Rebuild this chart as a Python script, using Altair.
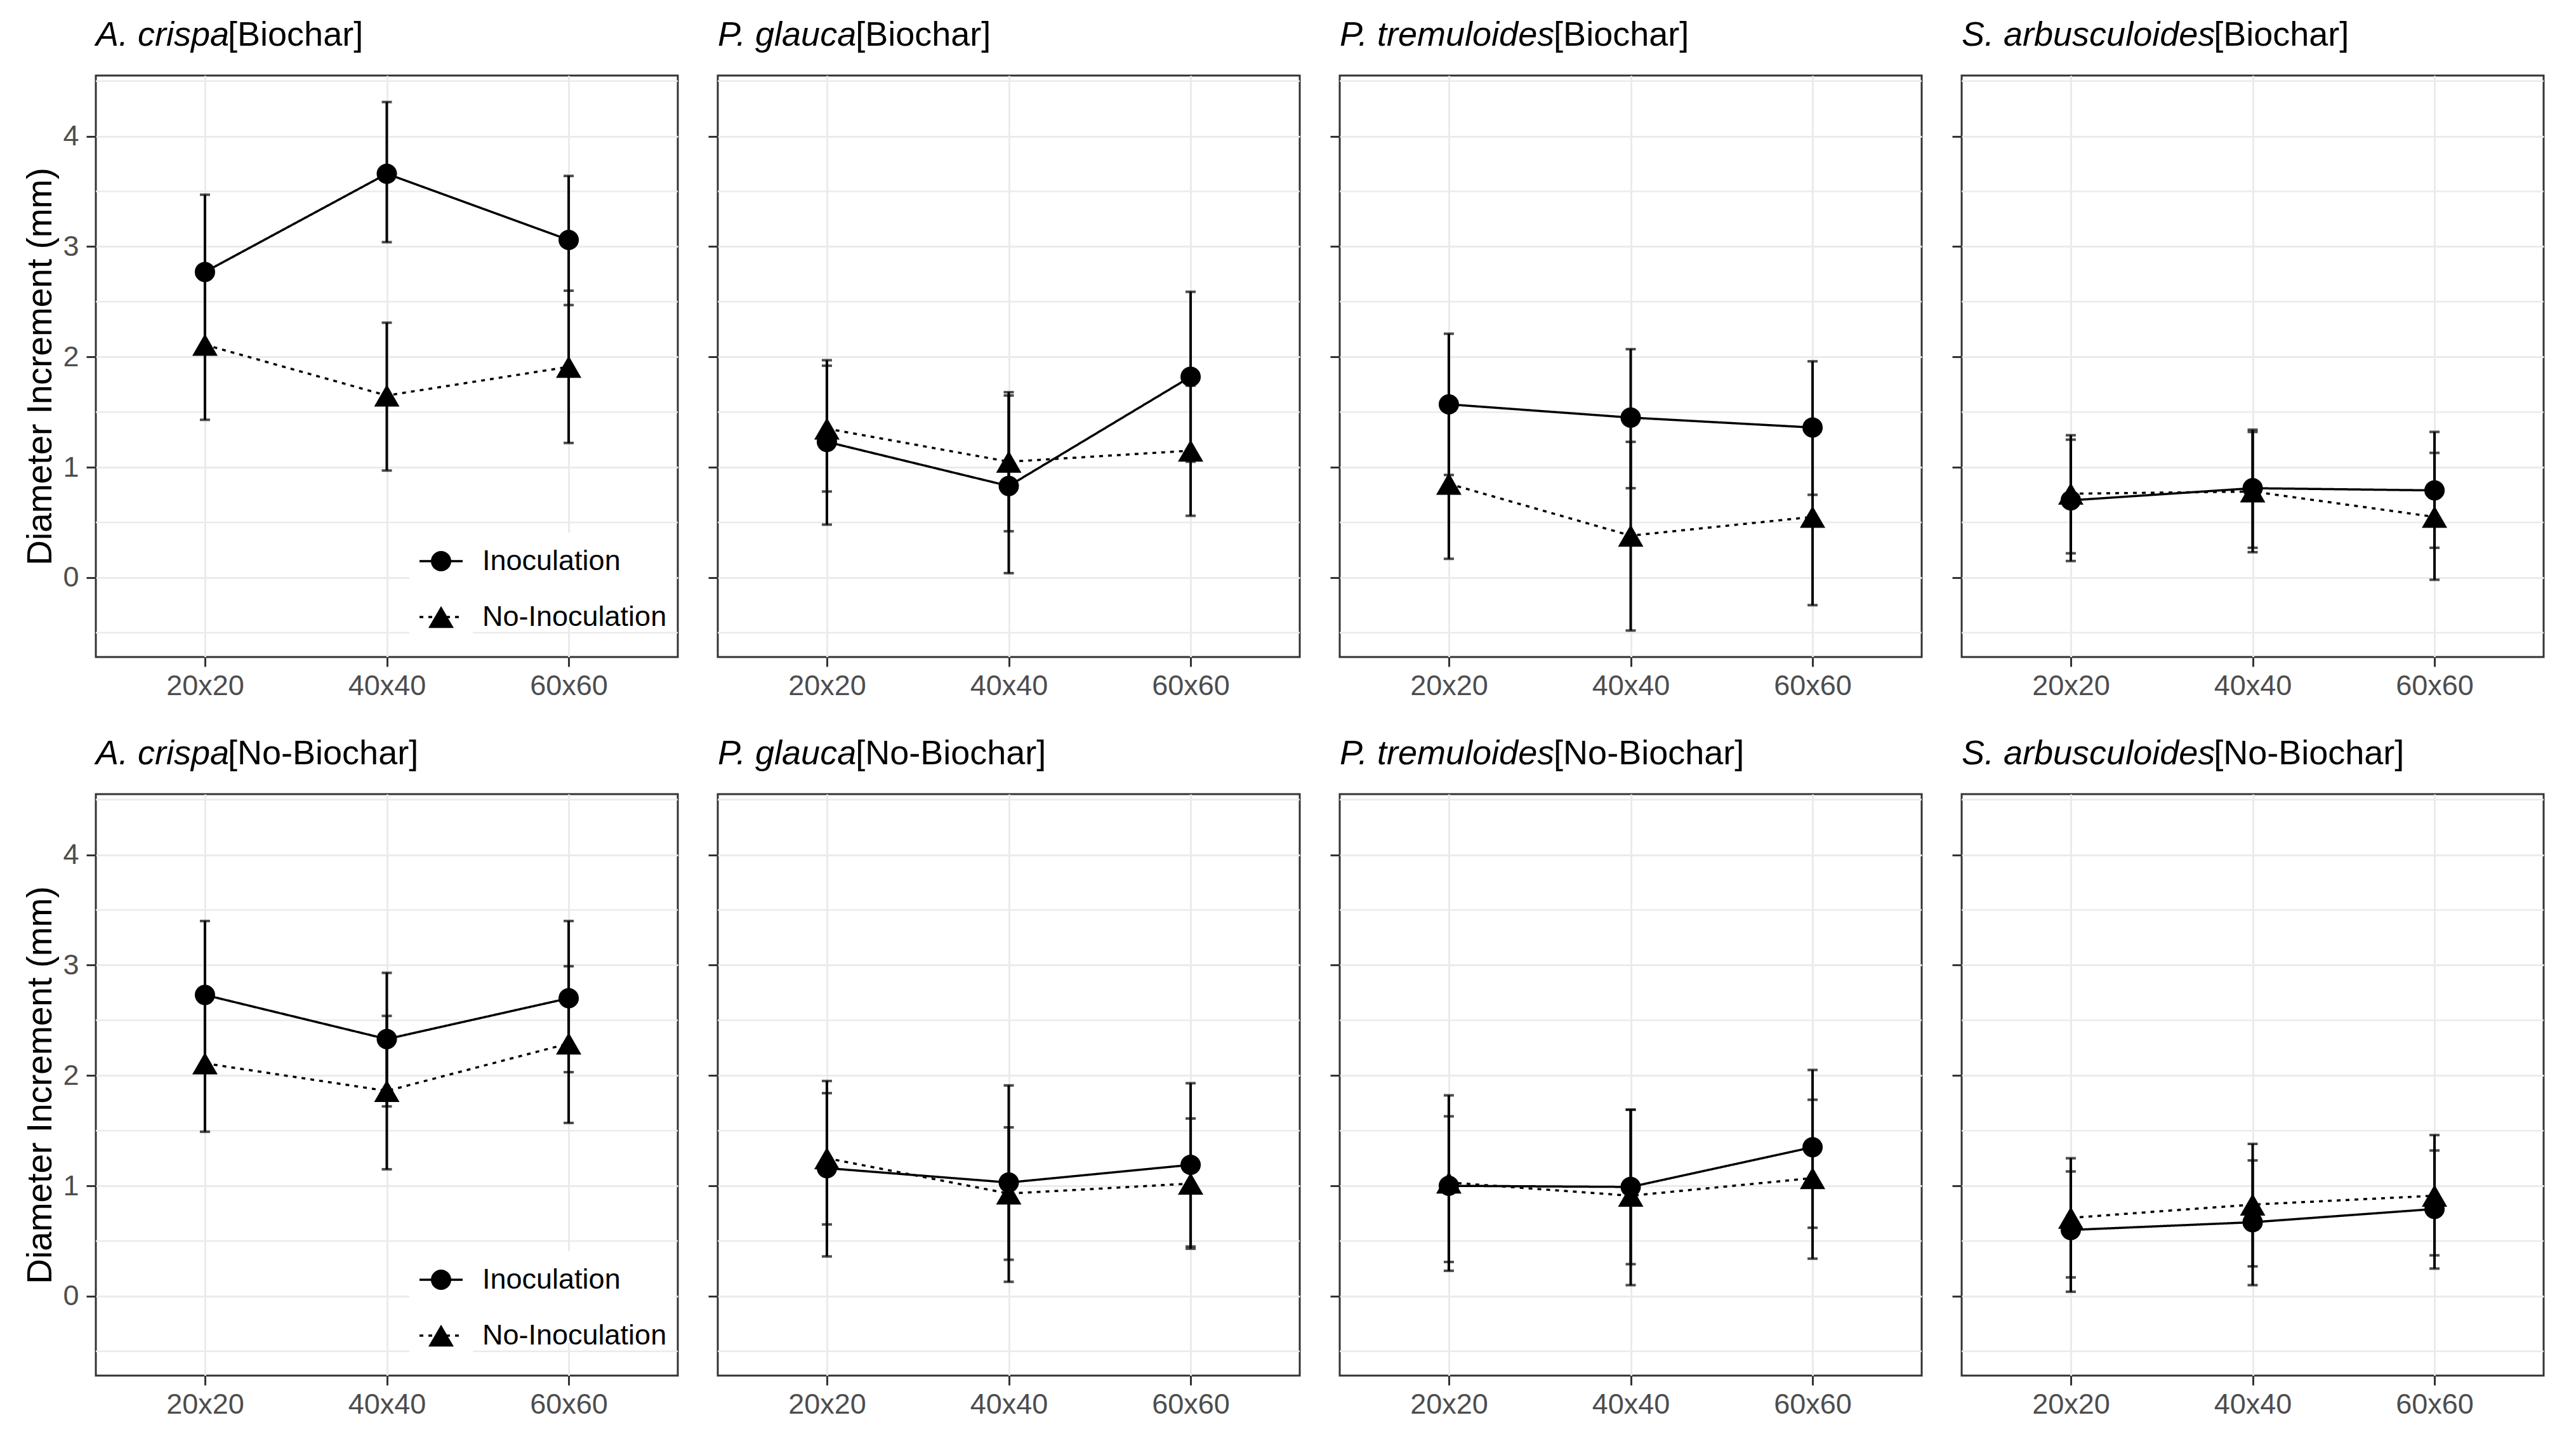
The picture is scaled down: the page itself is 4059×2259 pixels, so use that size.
import altair as alt
import pandas as pd

# ---------------- data ----------------
spacings = ["20x20", "40x40", "60x60"]
species = ["A. crispa", "P. glauca", "P. tremuloides", "S. arbusculoides"]
biochar_levels = ["Biochar", "No-Biochar"]
treatments = ["Inoculation", "No-Inoculation"]

# Biochar panels: mean, lower and upper error-bar limits
bio_inoc_mean = {"A. crispa": [2.77, 3.66, 3.06], "P. glauca": [1.23, 0.83, 1.82],
                 "P. tremuloides": [1.57, 1.45, 1.36], "S. arbusculoides": [0.70, 0.81, 0.79]}
bio_inoc_lo = {"A. crispa": [2.07, 3.04, 2.47], "P. glauca": [0.48, 0.04, 1.05],
               "P. tremuloides": [0.93, 0.81, 0.75], "S. arbusculoides": [0.15, 0.27, 0.27]}
bio_inoc_hi = {"A. crispa": [3.47, 4.31, 3.64], "P. glauca": [1.97, 1.65, 2.59],
               "P. tremuloides": [2.21, 2.07, 1.96], "S. arbusculoides": [1.25, 1.34, 1.32]}
bio_noin_mean = {"A. crispa": [2.11, 1.65, 1.91], "P. glauca": [1.35, 1.05, 1.15],
                 "P. tremuloides": [0.85, 0.38, 0.55], "S. arbusculoides": [0.76, 0.78, 0.55]}
bio_noin_lo = {"A. crispa": [1.43, 0.97, 1.22], "P. glauca": [0.78, 0.42, 0.56],
               "P. tremuloides": [0.17, -0.48, -0.25], "S. arbusculoides": [0.22, 0.23, -0.02]}
bio_noin_hi = {"A. crispa": [2.79, 2.31, 2.60], "P. glauca": [1.92, 1.68, 1.74],
               "P. tremuloides": [1.53, 1.23, 1.35], "S. arbusculoides": [1.29, 1.32, 1.13]}

# No-Biochar panels
nob_inoc_mean = {"A. crispa": [2.73, 2.33, 2.70], "P. glauca": [1.16, 1.03, 1.19],
                 "P. tremuloides": [1.00, 0.99, 1.35], "S. arbusculoides": [0.60, 0.67, 0.79]}
nob_inoc_lo = {"A. crispa": [2.06, 1.72, 2.03], "P. glauca": [0.36, 0.13, 0.45],
               "P. tremuloides": [0.23, 0.29, 0.62], "S. arbusculoides": [0.04, 0.10, 0.25]}
nob_inoc_hi = {"A. crispa": [3.40, 2.93, 3.40], "P. glauca": [1.95, 1.91, 1.93],
               "P. tremuloides": [1.82, 1.69, 2.05], "S. arbusculoides": [1.13, 1.23, 1.32]}
nob_noin_mean = {"A. crispa": [2.11, 1.86, 2.29], "P. glauca": [1.25, 0.93, 1.02],
                 "P. tremuloides": [1.03, 0.91, 1.07], "S. arbusculoides": [0.71, 0.83, 0.91]}
nob_noin_lo = {"A. crispa": [1.49, 1.15, 1.57], "P. glauca": [0.65, 0.33, 0.43],
               "P. tremuloides": [0.31, 0.10, 0.34], "S. arbusculoides": [0.17, 0.27, 0.37]}
nob_noin_hi = {"A. crispa": [2.73, 2.54, 2.99], "P. glauca": [1.84, 1.53, 1.61],
               "P. tremuloides": [1.63, 1.69, 1.78], "S. arbusculoides": [1.25, 1.38, 1.46]}

y_ticks = [0, 1, 2, 3, 4]
y_minor = [-0.5, 0.5, 1.5, 2.5, 3.5, 4.5]
y_domain = [-0.72, 4.55]

sources = {
    ("Biochar", "Inoculation"): (bio_inoc_mean, bio_inoc_lo, bio_inoc_hi),
    ("Biochar", "No-Inoculation"): (bio_noin_mean, bio_noin_lo, bio_noin_hi),
    ("No-Biochar", "Inoculation"): (nob_inoc_mean, nob_inoc_lo, nob_inoc_hi),
    ("No-Biochar", "No-Inoculation"): (nob_noin_mean, nob_noin_lo, nob_noin_hi),
}
rows = []
for (bc, tr), (m, lo, hi) in sources.items():
    for sp in species:
        for i, s in enumerate(spacings):
            rows.append({"Biochar": bc, "Species": sp, "Treatment": tr, "Spacing": s,
                         "mean": m[sp][i], "lo": lo[sp][i], "hi": hi[sp][i]})
df = pd.DataFrame(rows)

# ---------------- styling ----------------
FONT = "Liberation Sans"
W, H = 917, 916
TITLE_FS = 54
DOTTED = [6, 8]
ARIAL_W = {' ': 278, '.': 278, 'A': 667, 'P': 667, 'S': 667, 'a': 556, 'b': 556, 'c': 500,
           'd': 556, 'e': 556, 'g': 556, 'i': 222, 'l': 222, 'm': 833, 'o': 556, 'p': 556,
           'r': 333, 's': 500, 't': 278, 'u': 556}
KERN = {"P.": -111}


def text_width(s, fs):
    w = sum(ARIAL_W.get(ch, 556) for ch in s)
    w += sum(KERN.get(s[i:i + 2], 0) for i in range(len(s) - 1))
    return w * fs / 1000.0


x_scale = alt.Scale(type="point", domain=spacings, padding=0.6)
y_scale = alt.Scale(domain=y_domain, nice=False, zero=False)


def legend_layers():
    """Legend drawn inside the first panel (bottom right), like the ggplot inset legend."""
    box = alt.Chart(pd.DataFrame({"k": [0]})).mark_rect(color="white").encode(
        x=alt.value(494), x2=alt.value(912), y=alt.value(720), y2=alt.value(864))
    keybox = alt.Chart(pd.DataFrame({"k": [0]})).mark_rect(color="white").encode(
        x=alt.value(494), x2=alt.value(594), y=alt.value(820), y2=alt.value(888))
    out = [box, keybox]
    entries = [(treatments[0], 765, "circle", 1024, [1, 0]),
               (treatments[1], 853, "triangle-up", 1600, DOTTED)]
    for label, yc, shape, size, dash in entries:
        d1 = pd.DataFrame({"Treatment": [label]})
        out.append(alt.Chart(d1).mark_rule(color="black", strokeWidth=3.5, strokeDash=dash).encode(
            x=alt.value(510), x2=alt.value(578), y=alt.value(yc)))
        out.append(alt.Chart(d1).mark_point(shape=shape, size=size, filled=True, opacity=1,
                                            color="black").encode(
            x=alt.value(544), y=alt.value(yc)))
        out.append(alt.Chart(d1).mark_text(align="left", baseline="middle", font=FONT,
                                           fontSize=45, color="black").encode(
            x=alt.value(609), y=alt.value(yc), text="Treatment:N"))
    return out


def make_panel(sp, bc, first_col):
    d = df[(df.Species == sp) & (df.Biochar == bc)]
    x_axis = alt.Axis(title=None, labelAngle=0, labelFont=FONT, labelFontSize=45,
                      labelColor="#4D4D4D", labelPadding=8, tickSize=15, tickWidth=3,
                      tickColor="#333333", domain=False, grid=True, gridColor="#EBEBEB",
                      gridWidth=3)
    if first_col:
        y_axis = alt.Axis(values=y_ticks, title="Diameter Increment (mm)", format="d",
                          titleFont=FONT, titleFontSize=55, titleFontWeight="normal",
                          titleColor="black", titlePadding=6,
                          labelFont=FONT, labelFontSize=45, labelColor="#4D4D4D",
                          labelPadding=12, tickSize=15, tickWidth=3, tickColor="#333333",
                          domain=False, grid=True, gridColor="#EBEBEB", gridWidth=3)
    else:
        y_axis = alt.Axis(values=y_ticks, title=None, labels=False, tickSize=15, tickWidth=3,
                          tickColor="#333333", domain=False, grid=True, gridColor="#EBEBEB",
                          gridWidth=3)

    X = alt.X("Spacing:N", scale=x_scale, sort=spacings, axis=x_axis)

    minor = alt.Chart(pd.DataFrame({"v": y_minor})).mark_rule(
        color="#EBEBEB", strokeWidth=2.5).encode(
        y=alt.Y("v:Q", scale=y_scale, axis=y_axis))

    base = alt.Chart(d)
    bars = base.mark_rule(color="black", strokeWidth=4).encode(
        x=X, y=alt.Y("lo:Q", scale=y_scale, axis=y_axis), y2="hi:Q")
    cap_lo = base.mark_tick(orient="horizontal", size=16, thickness=4, color="black").encode(
        x=X, y=alt.Y("lo:Q", scale=y_scale, axis=y_axis))
    cap_hi = base.mark_tick(orient="horizontal", size=16, thickness=4, color="black").encode(
        x=X, y=alt.Y("hi:Q", scale=y_scale, axis=y_axis))
    lines = base.mark_line(color="black", strokeWidth=3.5).encode(
        x=X, y=alt.Y("mean:Q", scale=y_scale, axis=y_axis),
        strokeDash=alt.StrokeDash("Treatment:N",
                                  scale=alt.Scale(domain=treatments, range=[[1, 0], DOTTED]),
                                  legend=None))
    pts_c = base.transform_filter(alt.datum.Treatment == "Inoculation").mark_point(
        shape="circle", size=1024, filled=True, opacity=1, color="black").encode(
        x=X, y=alt.Y("mean:Q", scale=y_scale, axis=y_axis))
    pts_t = base.transform_filter(alt.datum.Treatment == "No-Inoculation").mark_point(
        shape="triangle-up", size=1600, filled=True, opacity=1, color="black").encode(
        x=X, y=alt.Y("mean:Q", scale=y_scale, axis=y_axis))

    t_ital = alt.Chart(pd.DataFrame({"t": [sp]})).mark_text(
        align="left", baseline="alphabetic", font=FONT, fontSize=TITLE_FS,
        fontStyle="italic", color="black").encode(
        x=alt.value(0), y=alt.value(-47), text="t:N")
    t_rest = alt.Chart(pd.DataFrame({"t": [f"[{bc}]"]})).mark_text(
        align="left", baseline="alphabetic", font=FONT, fontSize=TITLE_FS,
        color="black").encode(
        x=alt.value(text_width(sp, TITLE_FS) - 2), y=alt.value(-47), text="t:N")

    layers = [minor, bars, cap_lo, cap_hi, lines, pts_c, pts_t]
    if first_col:
        layers += legend_layers()
    layers += [t_ital, t_rest]

    return alt.layer(*layers).properties(width=W, height=H)


panels = []
for bc in biochar_levels:
    for j, sp in enumerate(species):
        panels.append(make_panel(sp, bc, j == 0))

chart = alt.concat(*panels, columns=4, spacing={"row": 216, "column": 63}, bounds="flush")
chart = chart.resolve_scale(strokeDash="independent").resolve_legend(strokeDash="independent")
chart = chart.properties(
    padding={"left": 27, "top": 19, "right": 5, "bottom": 5},
    background="white",
).configure(font=FONT).configure_view(stroke="#333333", strokeWidth=3)

chart.save("out.html", embed_options={"renderer": "svg", "actions": False})
